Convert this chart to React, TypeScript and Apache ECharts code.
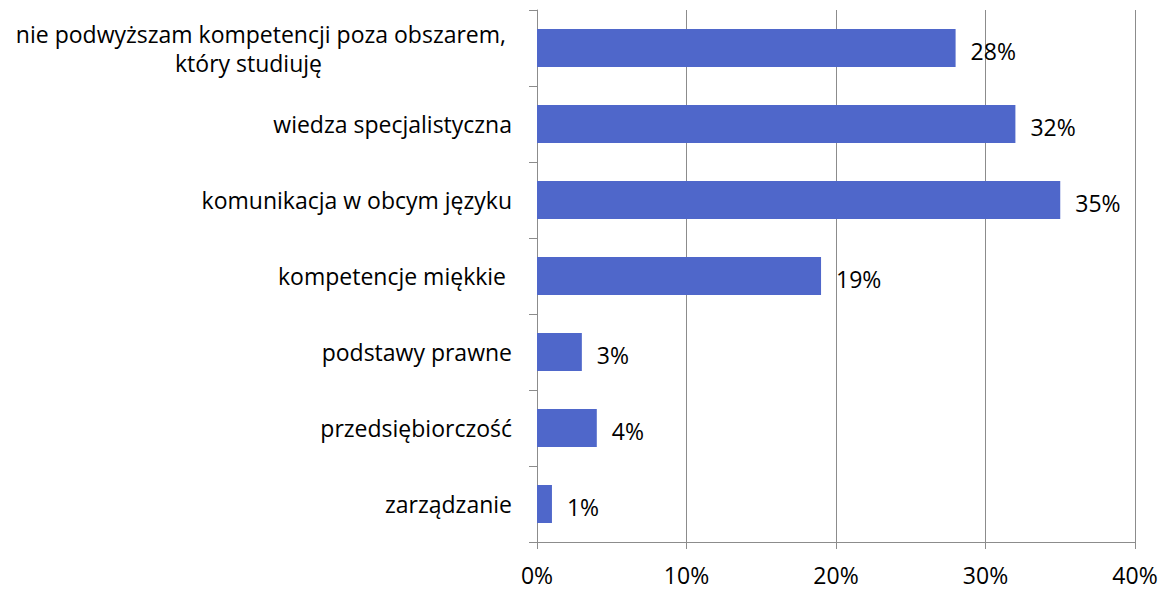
import React, { useEffect, useRef } from "react";
import * as echarts from "echarts";

const categories: string[] = [
  "nie podwyższam kompetencji poza obszarem, \nktóry studiuję",
  "wiedza specjalistyczna",
  "komunikacja w obcym języku",
  "kompetencje miękkie ",
  "podstawy prawne",
  "przedsiębiorczość",
  "zarządzanie",
];
const values: number[] = [28, 32, 35, 19, 3, 4, 1];
const xTicks = { min: 0, max: 40, interval: 10 };

const FONT = "Open Sans";
const FS = 23;
const LH = 29;
const BAR = "#4F67CA";
const GRID = "#8C8C8C";
// right padding of the wrapped second line so that it sits centred under the first
const SECOND_LINE_PAD = 190;

export default function App() {
  const ref = useRef<HTMLDivElement>(null);
  useEffect(() => {
    if (!ref.current) return;
    const chart = echarts.init(ref.current, undefined, { renderer: "svg" });
    chart.setOption({
      animation: false,
      backgroundColor: "#ffffff",
      grid: { left: 537, right: 32, top: 10, bottom: 48, containLabel: false },
      xAxis: {
        type: "value",
        min: xTicks.min,
        max: xTicks.max,
        interval: xTicks.interval,
        axisLine: { show: true, lineStyle: { color: GRID, width: 1 } },
        axisTick: { show: true, length: 7, lineStyle: { color: GRID } },
        splitLine: { show: true, lineStyle: { color: GRID, width: 1 } },
        axisLabel: {
          formatter: "{value}%",
          fontFamily: FONT,
          fontSize: FS,
          color: "#000",
          margin: 21,
        },
      },
      yAxis: {
        type: "category",
        inverse: true,
        data: categories,
        axisLine: { show: true, lineStyle: { color: GRID, width: 1 } },
        axisTick: { show: true, length: 8, alignWithLabel: false, lineStyle: { color: GRID } },
        splitLine: { show: false },
        axisLabel: {
          fontFamily: FONT,
          fontSize: FS,
          color: "#000",
          margin: 25,
          lineHeight: LH,
          formatter: (v: string) => {
            if (!v.includes("\n")) return v;
            const [a, b] = v.split("\n");
            return `{a|${a}}\n{b|${b}}`;
          },
          rich: {
            a: { fontFamily: FONT, fontSize: FS, color: "#000", lineHeight: LH },
            b: {
              fontFamily: FONT,
              fontSize: FS,
              color: "#000",
              lineHeight: LH,
              padding: [0, SECOND_LINE_PAD, 0, 0],
            },
          },
        },
      },
      series: [
        {
          type: "bar",
          data: values,
          barWidth: "50%",
          itemStyle: { color: BAR },
          label: {
            show: true,
            position: "right",
            distance: 15,
            offset: [0, 3],
            formatter: "{c}%",
            fontFamily: FONT,
            fontSize: FS,
            color: "#000",
          },
        },
      ],
    });
    return () => chart.dispose();
  }, []);
  return (
    <div
      ref={ref}
      style={{ position: "absolute", left: 0, top: 0, width: 1167, height: 590 }}
    />
  );
}
